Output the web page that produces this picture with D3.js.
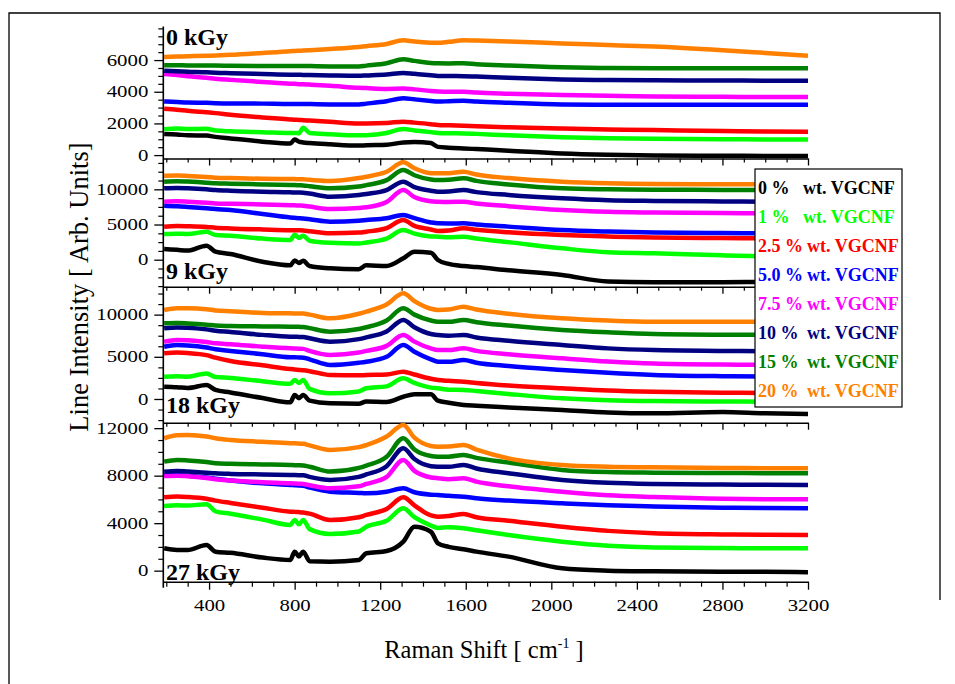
<!DOCTYPE html>
<html>
<head>
<meta charset="utf-8">
<script src="https://cdn.jsdelivr.net/npm/d3@7"></script>
<style>
body { margin: 0; background: #fff; }
text { font-family: 'Liberation Serif', 'Times New Roman', serif; }
</style>
</head>
<body>
<script>
// Configuration
var width = 955;
var height = 684;
var plotLeft = 163.3;
var plotRight = 808;
var panelTops = [26.5, 158.5, 286.7, 422.7];
var plotBottom = 581.7;
var lineWidth = 4.5;

// Data
var seriesNames = ['0 %', '1 %', '2.5 %', '5.0 %', '7.5 %', '10 %', '15 %', '20 %'];
var seriesColors = ['#000000', '#00ff00', '#ff0000', '#0000ff', '#ff00ff', '#000080', '#008000', '#ff8000'];
var doseLabels = ['0 kGy', '9 kGy', '18 kGy', '27 kGy'];

var ramanShift = [190, 250, 300, 388, 430, 500, 650, 780, 800, 820, 840, 870, 966, 1100, 1135,
    1230, 1308, 1360, 1437, 1470, 1520, 1590, 1650, 1800, 2050, 2265, 2480, 2800, 3000, 3200];

var kGy0 = [
    [1330, 1300, 1250, 1230, 1150, 1050, 850, 730, 980, 850, 800, 760, 680, 600, 620, 650, 800, 820, 760, 520, 470, 420, 380, 280, 100, 20, -20, -40, -50, -60],
    [1640, 1680, 1650, 1660, 1550, 1500, 1450, 1400, 1400, 1380, 1720, 1400, 1320, 1250, 1260, 1400, 1640, 1560, 1450, 1400, 1380, 1370, 1340, 1250, 1130, 1060, 1030, 1000, 990, 985],
    [2930, 2870, 2800, 2700, 2650, 2550, 2380, 2250, 2230, 2220, 2200, 2180, 2100, 2000, 2000, 2030, 2110, 2050, 1950, 1900, 1880, 1850, 1820, 1760, 1680, 1620, 1580, 1520, 1490, 1480],
    [3385, 3350, 3320, 3300, 3280, 3260, 3250, 3230, 3230, 3230, 3230, 3220, 3200, 3200, 3250, 3400, 3590, 3520, 3420, 3380, 3400, 3430, 3380, 3300, 3200, 3180, 3180, 3180, 3180, 3180],
    [5130, 5050, 4980, 4880, 4820, 4750, 4620, 4510, 4500, 4480, 4470, 4450, 4380, 4250, 4230, 4180, 4200, 4150, 4050, 4020, 4000, 4000, 3950, 3880, 3800, 3740, 3700, 3680, 3670, 3670],
    [5330, 5300, 5270, 5230, 5200, 5170, 5120, 5080, 5080, 5070, 5060, 5050, 5030, 5010, 5030, 5090, 5190, 5130, 5040, 5000, 4990, 4985, 4960, 4880, 4780, 4740, 4720, 4710, 4700, 4700],
    [5680, 5670, 5660, 5650, 5650, 5640, 5630, 5630, 5630, 5630, 5630, 5620, 5600, 5600, 5650, 5800, 6050, 5950, 5820, 5800, 5790, 5800, 5740, 5650, 5540, 5500, 5490, 5490, 5480, 5480],
    [6200, 6220, 6240, 6270, 6290, 6330, 6450, 6560, 6580, 6590, 6600, 6620, 6700, 6830, 6880, 7020, 7250, 7170, 7100, 7090, 7150, 7250, 7230, 7170, 7050, 6950, 6850, 6620, 6450, 6280]
];

var kGy9 = [
    [1520, 1400, 1300, 1990, 1140, 800, -300, -800, -100, -450, -150, -900, -1220, -1350, -800, -900, 200, 1140, 1000, -40, -600, -900, -1050, -1500, -2170, -3100, -3200, -3200, -3150, -3120],
    [3650, 3700, 3650, 3980, 3500, 3400, 3000, 2800, 3550, 3100, 3400, 2700, 2400, 2300, 2450, 3000, 4220, 3700, 3300, 3270, 3200, 3270, 3000, 2500, 1620, 1050, 900, 620, 500, 430],
    [4690, 4780, 4750, 4650, 4550, 4450, 4300, 4200, 4200, 4180, 4150, 4050, 3750, 3850, 3980, 4500, 5640, 4800, 4300, 4080, 4150, 4460, 4250, 3900, 3510, 3300, 3150, 3080, 3050, 3040],
    [7670, 7600, 7500, 7300, 7200, 7050, 6500, 6000, 5950, 5900, 5850, 5750, 5400, 5550, 5640, 5900, 6350, 5900, 5300, 5170, 5150, 5170, 5000, 4700, 4220, 4000, 3850, 3780, 3760, 3750],
    [8240, 8300, 8250, 8100, 8000, 7950, 7850, 7750, 7730, 7700, 7680, 7550, 7200, 7350, 7450, 8200, 9900, 8900, 8300, 8240, 8200, 8240, 8000, 7600, 7060, 6800, 6700, 6620, 6600, 6590],
    [10140, 10200, 10150, 10000, 9900, 9800, 9650, 9570, 9550, 9540, 9520, 9400, 8950, 9200, 9350, 9900, 11080, 10300, 9800, 9660, 9700, 9900, 9600, 9200, 8720, 8450, 8350, 8280, 8250, 8240],
    [11080, 11150, 11100, 10950, 10850, 10800, 10700, 10610, 10600, 10580, 10560, 10450, 10140, 10400, 10600, 11300, 12740, 12000, 11400, 11320, 11350, 11560, 11200, 10700, 10140, 10000, 9950, 9920, 9900, 9900],
    [11930, 11950, 11900, 11750, 11650, 11600, 11500, 11460, 11450, 11440, 11420, 11350, 11180, 11600, 11790, 12500, 13830, 13000, 12300, 12270, 12300, 12500, 12100, 11600, 11080, 10850, 10750, 10720, 10710, 10710]
];

var kGy18 = [
    [1460, 1400, 1300, 1660, 1070, 770, 110, -400, 475, 100, 475, -200, -510, -550, -300, -350, 270, 560, 560, -200, -450, -700, -800, -1000, -1300, -1600, -1700, -1550, -1700, -1780],
    [2640, 2700, 2650, 3030, 2600, 2500, 2100, 1800, 2250, 1900, 2250, 1200, 675, 900, 1270, 1500, 2450, 1900, 1350, 1270, 1100, 1070, 950, 600, 80, -150, -250, -300, -320, -320],
    [5420, 5500, 5450, 5200, 4900, 4500, 4000, 3550, 3500, 3450, 3400, 3300, 2840, 2800, 2840, 2900, 3240, 2900, 2400, 2250, 2150, 2050, 1900, 1600, 1270, 1000, 850, 750, 700, 675],
    [6200, 6400, 6350, 6100, 5900, 5700, 5300, 4950, 4950, 4920, 4900, 4700, 4030, 4300, 4420, 5000, 6400, 5600, 4700, 4420, 4400, 4620, 4300, 3900, 3440, 3100, 2850, 2700, 2660, 2640],
    [6790, 6990, 6950, 6750, 6600, 6500, 6200, 6000, 5980, 5960, 5940, 5700, 5210, 5500, 5700, 6300, 7580, 6800, 6000, 5810, 5800, 6010, 5700, 5300, 4820, 4450, 4200, 4080, 4050, 4030],
    [8380, 8480, 8450, 8250, 8100, 7950, 7600, 7380, 7370, 7360, 7350, 7200, 6790, 7100, 7300, 8000, 9360, 8500, 7700, 7580, 7500, 7580, 7300, 6900, 6400, 6000, 5800, 5700, 5650, 5610],
    [8970, 9000, 8950, 8800, 8700, 8650, 8600, 8570, 8560, 8550, 8540, 8400, 7980, 8300, 8500, 9300, 10750, 10000, 9300, 9160, 9150, 9360, 9100, 8700, 8180, 7900, 7700, 7620, 7600, 7580],
    [10550, 10750, 10750, 10650, 10500, 10400, 10200, 10150, 10140, 10130, 10120, 10000, 9560, 10100, 10350, 11200, 12530, 11600, 10700, 10550, 10600, 10940, 10600, 10100, 9560, 9300, 9160, 9160, 9160, 9160]
];

var kGy27 = [
    [1890, 1750, 1740, 2160, 1600, 1500, 1100, 900, 1600, 1200, 1600, 800, 760, 900, 1460, 1650, 2440, 3700, 3280, 2300, 2000, 1800, 1600, 1180, 200, 0, -60, -100, -100, -135],
    [5450, 5500, 5480, 5600, 5000, 4800, 4300, 3850, 4270, 3900, 4270, 3500, 3090, 3300, 3700, 4200, 5250, 4500, 3800, 3600, 3650, 3570, 3400, 3000, 2440, 2100, 1950, 1900, 1890, 1890],
    [6180, 6240, 6200, 6050, 5900, 5700, 5300, 4970, 4950, 4930, 4900, 4800, 4270, 4500, 4690, 5200, 6180, 5500, 4650, 4550, 4600, 4770, 4500, 4200, 3700, 3350, 3150, 3050, 3020, 3010],
    [8060, 8060, 8000, 7850, 7750, 7600, 7350, 7220, 7200, 7180, 7150, 7000, 6650, 6550, 6520, 6650, 6940, 6600, 6400, 6370, 6300, 6230, 6100, 5900, 5670, 5500, 5400, 5300, 5270, 5250],
    [7970, 8000, 7950, 7800, 7700, 7600, 7450, 7360, 7340, 7320, 7300, 7200, 6940, 7100, 7300, 7900, 9320, 8400, 7850, 7780, 7700, 7780, 7500, 7100, 6650, 6350, 6200, 6050, 6020, 6010],
    [8340, 8400, 8350, 8250, 8200, 8150, 8100, 8060, 8050, 8040, 8030, 7900, 7640, 7900, 8100, 8800, 10310, 9400, 8800, 8760, 8750, 8900, 8600, 8200, 7640, 7400, 7300, 7250, 7230, 7220],
    [9180, 9320, 9280, 9150, 9050, 9000, 8950, 8900, 8880, 8870, 8850, 8750, 8340, 8650, 8850, 9600, 11150, 10200, 9650, 9600, 9600, 9740, 9500, 9100, 8480, 8300, 8250, 8220, 8210, 8200],
    [11150, 11400, 11430, 11300, 11150, 11000, 10850, 10730, 10720, 10700, 10680, 10550, 10160, 10400, 10580, 11300, 12270, 11200, 10500, 10440, 10450, 10580, 10200, 9460, 8900, 8750, 8700, 8650, 8630, 8620]
];

// axis settings
var xDomain = [186, 3200];
var xMajorTicks = [400, 800, 1200, 1600, 2000, 2400, 2800, 3200];
var xMinorStep = 100;
var yDomains = [[-215, 8120], [-3835, 14380], [-2810, 13310], [-930, 12460]];
var yMajorTicks = [[0, 2000, 4000, 6000], [0, 5000, 10000], [0, 5000, 10000], [0, 4000, 8000, 12000]];
var yMinorSteps = [500, 1250, 1250, 1000];

var panelData = [kGy0, kGy9, kGy18, kGy27];
var serif = "'Liberation Serif', 'Times New Roman', serif";

function onload() {
    var svg = d3.select('body').append('svg')
        .attr('width', width)
        .attr('height', height)
        .attr('font-family', serif);

    svg.append('rect')
        .attr('width', width).attr('height', height)
        .attr('fill', '#fff');

    // outer frame
    svg.append('path')
        .attr('d', 'M9,684 L9,13 L940,13 L940,600')
        .attr('fill', 'none')
        .attr('stroke', '#000')
        .attr('stroke-width', 1.3);

    var x = d3.scaleLinear().domain(xDomain).range([plotLeft, plotRight]);
    var xMinor = d3.range(200, 3201, xMinorStep).filter(function(v) { return v % 400 !== 0; });

    panelData.forEach(function(series, p) {
        var top = panelTops[p];
        var bottom = p < 3 ? panelTops[p + 1] : plotBottom;
        var y = d3.scaleLinear().domain(yDomains[p]).range([bottom, top]);
        drawPanel(svg, x, y, series, p, top, bottom, xMinor);
    });

    // left axis line across all panels
    svg.append('line')
        .attr('x1', plotLeft).attr('x2', plotLeft)
        .attr('y1', panelTops[0]).attr('y2', plotBottom + 6)
        .attr('stroke', '#000').attr('stroke-width', 1.6);

    drawLegend(svg);

    // axis titles
    var xt = svg.append('text')
        .attr('x', 484).attr('y', 658)
        .attr('text-anchor', 'middle')
        .attr('font-size', 24.5);
    xt.append('tspan').text('Raman Shift [ cm');
    xt.append('tspan').attr('font-size', 14).attr('dy', -10).text('-1');
    xt.append('tspan').attr('dy', 10).text(' ]');

    svg.append('text')
        .attr('transform', 'translate(88,287) rotate(-90)')
        .attr('text-anchor', 'middle')
        .attr('font-size', 26.5)
        .text('Line Intensity [ Arb. Units]');
}

function drawPanel(svg, x, y, series, p, top, bottom, xMinor) {
    var g = svg.append('g');

    var line = d3.line()
        .x(function(d, i) { return x(ramanShift[i]); })
        .y(function(d) { return y(d); })
        .curve(d3.curveMonotoneX);

    series.forEach(function(values, s) {
        g.append('path')
            .datum(values)
            .attr('d', line)
            .attr('fill', 'none')
            .attr('stroke', seriesColors[s])
            .attr('stroke-width', lineWidth)
            .attr('stroke-linejoin', 'round');
    });

    // bottom axis of panel (ticks pointing down)
    var isLast = p === 3;
    var xAxis = d3.axisBottom(x)
        .tickValues(xMajorTicks)
        .tickSize(isLast ? 8 : 7)
        .tickSizeOuter(0)
        .tickFormat(isLast ? d3.format('d') : '');
    var xa = svg.append('g')
        .attr('transform', 'translate(0,' + bottom + ')')
        .call(xAxis);
    xa.attr('font-family', serif);
    xa.select('.domain').attr('stroke-width', 1.6);
    xa.selectAll('.tick line').attr('stroke-width', 1.3);
    if (isLast) {
        xa.selectAll('text')
            .attr('y', 29).attr('dy', 0)
            .attr('font-size', 16)
            .attr('transform', 'scale(1.3,1)');
    }
    var xm = svg.append('g')
        .attr('transform', 'translate(0,' + bottom + ')')
        .call(d3.axisBottom(x).tickValues(xMinor).tickSize(isLast ? 5 : 4).tickSizeOuter(0).tickFormat(''));
    xm.select('.domain').remove();
    xm.selectAll('.tick line').attr('stroke-width', 1.2);

    // left axis
    var ya = svg.append('g')
        .attr('transform', 'translate(' + plotLeft + ',0)')
        .call(d3.axisLeft(y).tickValues(yMajorTicks[p]).tickSize(9).tickSizeOuter(0).tickFormat(d3.format('d')));
    ya.attr('font-family', serif);
    ya.select('.domain').remove();
    ya.selectAll('.tick line').attr('stroke-width', 1.3);
    ya.selectAll('text')
        .attr('x', -15 / 1.3)
        .attr('font-size', 16)
        .attr('transform', 'scale(1.3,1)');

    var d = yDomains[p];
    var step = yMinorSteps[p];
    var minor = d3.range(Math.ceil(d[0] / step) * step, d[1], step)
        .filter(function(v) { return yMajorTicks[p].indexOf(v) < 0; });
    var ym = svg.append('g')
        .attr('transform', 'translate(' + plotLeft + ',0)')
        .call(d3.axisLeft(y).tickValues(minor).tickSize(5).tickSizeOuter(0).tickFormat(''));
    ym.select('.domain').remove();
    ym.selectAll('.tick line').attr('stroke-width', 1.2);

    // dose label
    var labelY = [44.5, 278.5, 413, 580];
    svg.append('text')
        .attr('x', 166).attr('y', labelY[p])
        .attr('font-size', 24)
        .attr('font-weight', 'bold')
        .text(doseLabels[p]);
}

function drawLegend(svg) {
    var lg = svg.append('g');
    lg.append('rect')
        .attr('x', 755).attr('y', 169)
        .attr('width', 147).attr('height', 238)
        .attr('fill', '#fff')
        .attr('stroke', '#000')
        .attr('stroke-width', 1.2);

    seriesNames.forEach(function(name, i) {
        var yy = 194 + i * 29;
        lg.append('text')
            .attr('x', 758).attr('y', yy)
            .attr('font-size', 18).attr('font-weight', 'bold')
            .attr('fill', seriesColors[i])
            .text(name);
        lg.append('text')
            .attr('x', name.length <= 3 ? 803 : 807).attr('y', yy)
            .attr('font-size', 18).attr('font-weight', 'bold')
            .attr('fill', seriesColors[i])
            .text('wt. VGCNF');
    });
}

onload();
</script>
</body>
</html>
